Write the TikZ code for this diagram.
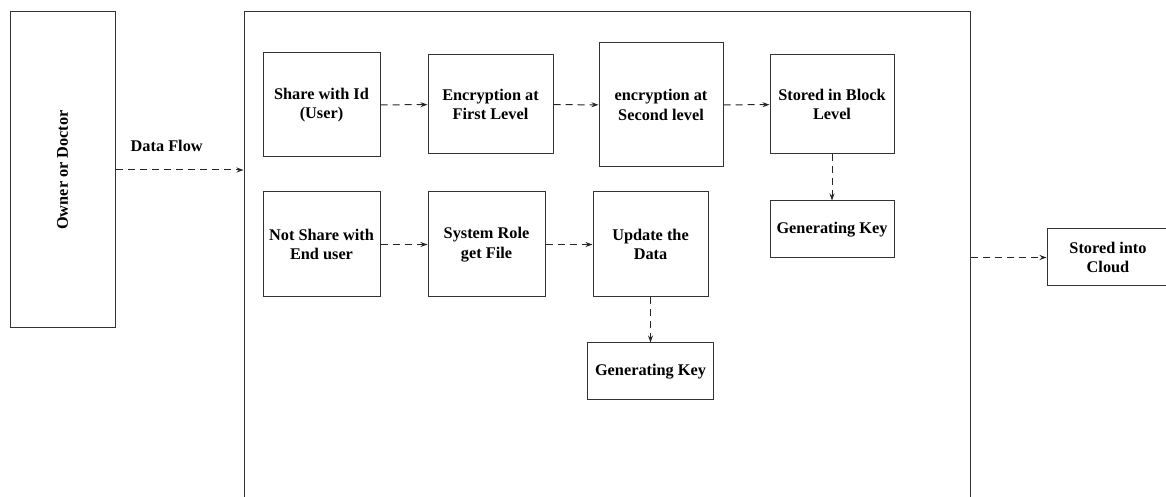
\documentclass[tikz,border=0pt]{standalone}
\usepackage{fontspec}
\setmainfont{Liberation Serif}
\usetikzlibrary{arrows.meta}
\begin{document}
\begin{tikzpicture}[x=1pt, y=1pt,
    box/.style={draw=black!80, line width=1pt, align=center, inner sep=2pt,
      font=\bfseries\fontsize{16.3}{19.5}\selectfont},
    flow/.style={draw=black!85, line width=1pt, dash pattern=on 7pt off 5pt,
      -{Stealth[length=7pt,width=5pt]}}]
    \useasboundingbox (0,0) rectangle (1166,497);

    \node[box, minimum width=105pt, minimum height=316pt] (owner) at (62.5, 327) {};
    \node[font=\bfseries\fontsize{16.3}{19.5}\selectfont, rotate=90] (ownertxt) at (owner) {Owner or Doctor};
    \node[box, minimum width=726pt, minimum height=505pt] (main) at (607, 232.5) {};

    \node[box, minimum width=117pt, minimum height=104pt] (share) at (321.5, 392) {Share with Id\\(User)};
    \node[box, minimum width=125pt, minimum height=99pt] (encone) at (490.5, 392.5) {Encryption at\\First Level};
    \node[box, minimum width=124pt, minimum height=124pt] (enctwo) at (661, 392) {encryption at\\Second level};
    \node[box, minimum width=124pt, minimum height=99pt] (block) at (832, 392.5) {Stored in Block\\Level};
    \node[box, minimum width=124pt, minimum height=57pt] (keyone) at (832, 267.5) {Generating Key};

    \node[box, minimum width=117pt, minimum height=105pt] (notshare) at (321.5, 252.5) {Not Share with\\End user};
    \node[box, minimum width=117pt, minimum height=105pt] (sysrole) at (486.5, 252.5) {System Role\\get File};
    \node[box, minimum width=115pt, minimum height=105pt] (update) at (650.5, 252.5) {Update the\\Data};
    \node[box, minimum width=126pt, minimum height=57pt] (keytwo) at (650.5, 125.5) {Generating Key};

    \node[box, minimum width=122pt, minimum height=57pt] (cloud) at (1108, 239.5) {Stored into\\Cloud};

    \draw[flow] (owner.east) -- (owner.east -| main.west) node[pos=0.4, above=15pt, font=\bfseries\fontsize{16.3}{19.5}\selectfont] {Data Flow};
    \draw[flow] (share) -- (encone);
    \draw[flow] (encone) -- (enctwo);
    \draw[flow] (enctwo) -- (block);
    \draw[flow] (block) -- (keyone);
    \draw[flow] (notshare) -- (sysrole);
    \draw[flow] (sysrole) -- (update);
    \draw[flow] (update) -- (keytwo);
    \draw[flow] (cloud.west -| main.east) -- (cloud.west);
\end{tikzpicture}
\end{document}
